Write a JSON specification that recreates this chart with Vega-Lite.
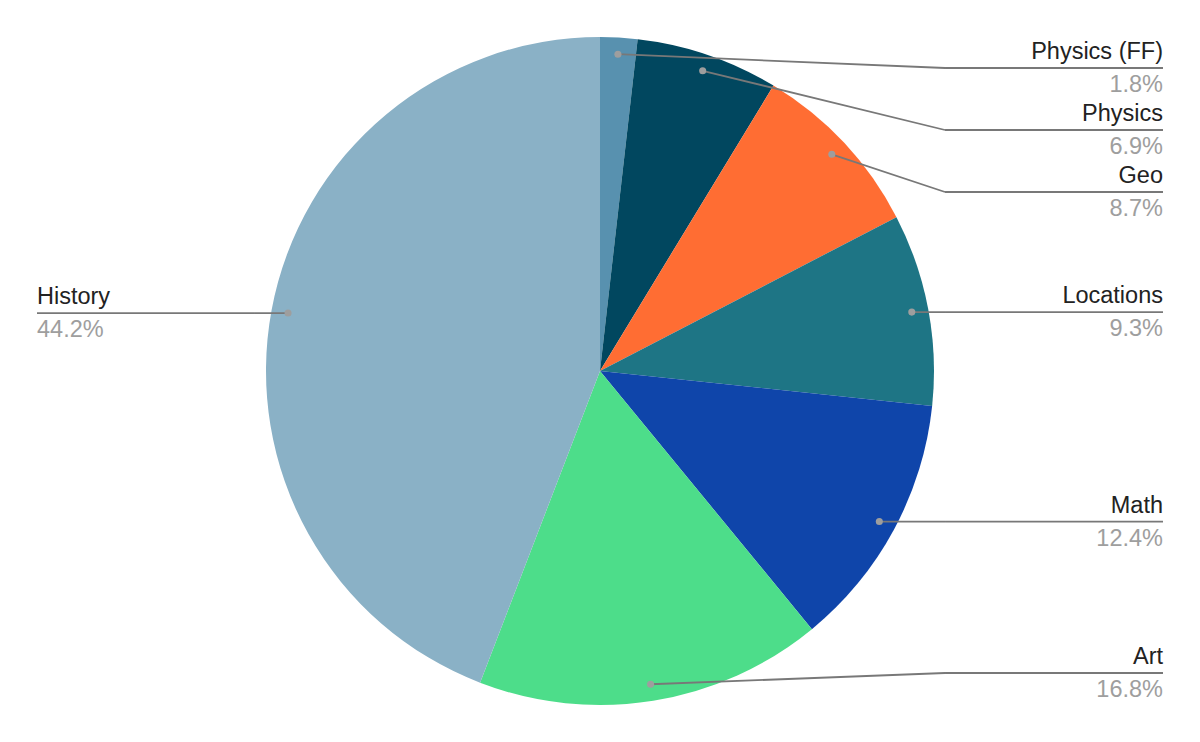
{
  "$schema": "https://vega.github.io/schema/vega-lite/v6.json",
  "width": 1200,
  "height": 742,
  "padding": 0,
  "autosize": {"type": "fit", "contains": "padding"},
  "background": "white",
  "config": {"view": {"stroke": null}, "axis": {"disable": true}},
  "data": {
    "values": [
      {"name": "Physics (FF)", "value": 1.8},
      {"name": "Physics", "value": 6.9},
      {"name": "Geo", "value": 8.7},
      {"name": "Locations", "value": 9.3},
      {"name": "Math", "value": 12.4},
      {"name": "Art", "value": 16.8},
      {"name": "History", "value": 44.2}
    ]
  },
  "transform": [
    {"window": [{"op": "row_number", "as": "idx"}]},
    {"joinaggregate": [{"op": "sum", "field": "value", "as": "total"}]},
    {"window": [{"op": "sum", "field": "value", "as": "cum"}], "sort": [{"field": "idx"}], "frame": [null, 0]},
    {"calculate": "2*PI*(datum.cum - datum.value/2)/datum.total", "as": "mid"},
    {"calculate": "0.95*sin(datum.mid)", "as": "px"},
    {"calculate": "0.95*cos(datum.mid)", "as": "py"},
    {"calculate": "sin(datum.mid) >= 0 ? 'right' : 'left'", "as": "side"},
    {"window": [{"op": "row_number", "as": "k"}], "groupby": ["side"], "sort": [{"field": "idx"}]},
    {"calculate": "datum.py + (datum.k - 1)*0.18563", "as": "s"},
    {"window": [{"op": "min", "field": "s", "as": "smin"}], "groupby": ["side"], "sort": [{"field": "idx"}], "frame": [null, 0]},
    {"calculate": "max(-0.9042, min(0.9072, datum.smin) - (datum.k - 1)*0.18563)", "as": "ly"},
    {"calculate": "datum.side == 'right' ? 1.033 : -1.033", "as": "ex"},
    {"calculate": "datum.side == 'right' ? 1.6856 : -1.6856", "as": "endx"},
    {"calculate": "format(datum.value, '.1f') + '%'", "as": "pct"}
  ],
  "layer": [
    {
      "mark": {"type": "arc", "radius": 334, "stroke": null},
      "encoding": {
        "theta": {"field": "value", "type": "quantitative", "stack": true},
        "order": {"field": "idx", "type": "quantitative"},
        "color": {
          "field": "name",
          "type": "nominal",
          "legend": null,
          "scale": {
            "domain": ["Physics (FF)", "Physics", "Geo", "Locations", "Math", "Art", "History"],
            "range": ["#5891af", "#01475f", "#ff6d33", "#1e7585", "#0f45aa", "#4ddd8a", "#8ab1c6"]
          }
        }
      }
    },
    {
      "mark": {"type": "rule", "color": "#787878", "strokeWidth": 1.8},
      "encoding": {
        "x": {"field": "px", "type": "quantitative", "scale": {"domain": [-1.7964, 1.7964], "nice": false, "zero": false}},
        "y": {"field": "py", "type": "quantitative", "scale": {"domain": [-1.1108, 1.1108], "nice": false, "zero": false}},
        "x2": {"field": "ex"},
        "y2": {"field": "ly"}
      }
    },
    {
      "mark": {"type": "rule", "color": "#787878", "strokeWidth": 1.8},
      "encoding": {
        "x": {"field": "ex", "type": "quantitative", "scale": {"domain": [-1.7964, 1.7964], "nice": false, "zero": false}},
        "y": {"field": "ly", "type": "quantitative", "scale": {"domain": [-1.1108, 1.1108], "nice": false, "zero": false}},
        "x2": {"field": "endx"}
      }
    },
    {
      "mark": {"type": "point", "filled": true, "shape": "circle", "size": 50, "color": "#9e9e9e", "opacity": 1},
      "encoding": {
        "x": {"field": "px", "type": "quantitative", "scale": {"domain": [-1.7964, 1.7964], "nice": false, "zero": false}},
        "y": {"field": "py", "type": "quantitative", "scale": {"domain": [-1.1108, 1.1108], "nice": false, "zero": false}}
      }
    },
    {
      "transform": [{"filter": "datum.side == 'right'"}],
      "mark": {"type": "text", "align": "right", "baseline": "alphabetic", "dy": -9, "font": "Liberation Sans", "fontSize": 23.5, "color": "#222222"},
      "encoding": {
        "x": {"field": "endx", "type": "quantitative", "scale": {"domain": [-1.7964, 1.7964], "nice": false, "zero": false}},
        "y": {"field": "ly", "type": "quantitative", "scale": {"domain": [-1.1108, 1.1108], "nice": false, "zero": false}},
        "text": {"field": "name"}
      }
    },
    {
      "transform": [{"filter": "datum.side == 'right'"}],
      "mark": {"type": "text", "align": "right", "baseline": "alphabetic", "dy": 24, "font": "Liberation Sans", "fontSize": 23.5, "color": "#9e9e9e"},
      "encoding": {
        "x": {"field": "endx", "type": "quantitative", "scale": {"domain": [-1.7964, 1.7964], "nice": false, "zero": false}},
        "y": {"field": "ly", "type": "quantitative", "scale": {"domain": [-1.1108, 1.1108], "nice": false, "zero": false}},
        "text": {"field": "pct"}
      }
    },
    {
      "transform": [{"filter": "datum.side == 'left'"}],
      "mark": {"type": "text", "align": "left", "baseline": "alphabetic", "dy": -9, "font": "Liberation Sans", "fontSize": 23.5, "color": "#222222"},
      "encoding": {
        "x": {"field": "endx", "type": "quantitative", "scale": {"domain": [-1.7964, 1.7964], "nice": false, "zero": false}},
        "y": {"field": "ly", "type": "quantitative", "scale": {"domain": [-1.1108, 1.1108], "nice": false, "zero": false}},
        "text": {"field": "name"}
      }
    },
    {
      "transform": [{"filter": "datum.side == 'left'"}],
      "mark": {"type": "text", "align": "left", "baseline": "alphabetic", "dy": 24, "font": "Liberation Sans", "fontSize": 23.5, "color": "#9e9e9e"},
      "encoding": {
        "x": {"field": "endx", "type": "quantitative", "scale": {"domain": [-1.7964, 1.7964], "nice": false, "zero": false}},
        "y": {"field": "ly", "type": "quantitative", "scale": {"domain": [-1.1108, 1.1108], "nice": false, "zero": false}},
        "text": {"field": "pct"}
      }
    }
  ]
}
